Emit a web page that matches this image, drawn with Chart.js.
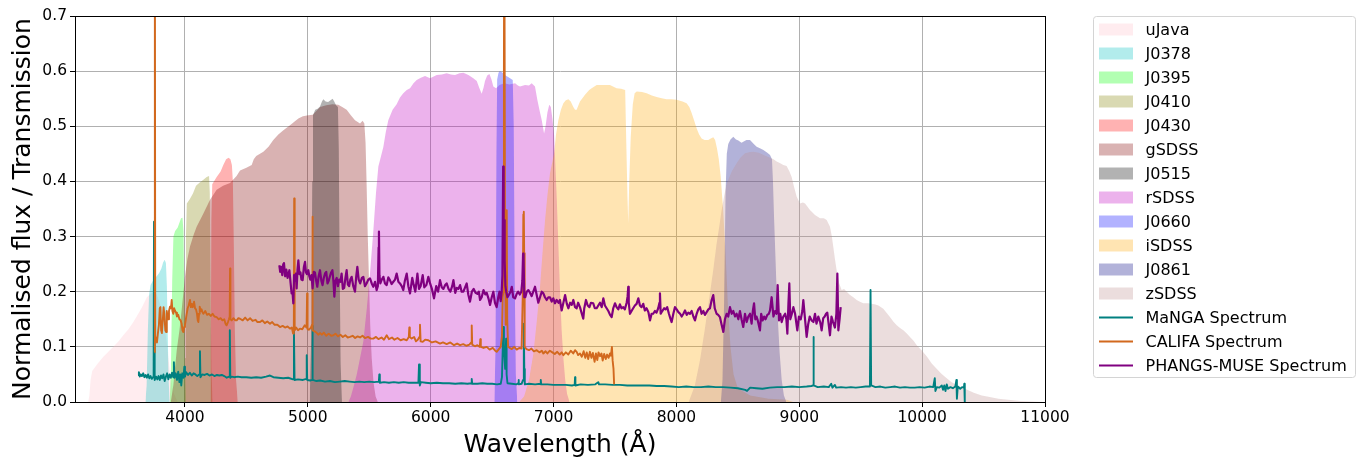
<!DOCTYPE html>
<html>
<head>
<meta charset="utf-8">
<script src="https://cdn.jsdelivr.net/npm/chart.js@4.4.0/dist/chart.umd.min.js"></script>
<style>
  html, body { margin: 0; padding: 0; background: #fff; }
  canvas { display: block; }
</style>
</head>
<body>
<canvas id="chart" width="1365" height="459"></canvas>
<script>
// Filter transmission curves, [wavelength (Å), transmission]
const uJava = [[3212,0],[3222,0.012],[3232,0.04],[3245,0.056],[3290,0.07],[3336,0.082],[3380,0.092],[3417,0.1],[3460,0.11],[3498,0.121],[3540,0.132],[3580,0.145],[3620,0.16],[3650,0.172],[3690,0.19],[3730,0.198],[3770,0.195],[3810,0.17],[3850,0.11],[3880,0.05],[3910,0.015],[3940,0]];
const J0378 = [[3678,0],[3688,0.03],[3698,0.13],[3708,0.195],[3720,0.212],[3745,0.222],[3770,0.228],[3790,0.234],[3808,0.242],[3822,0.253],[3835,0.258],[3845,0.252],[3853,0.21],[3860,0.12],[3867,0.04],[3876,0]];
const J0395 = [[3876,0],[3886,0.06],[3896,0.22],[3906,0.3],[3920,0.31],[3940,0.316],[3955,0.325],[3968,0.333],[3980,0.334],[3988,0.31],[3994,0.2],[4000,0.07],[4008,0]];
const J0410 = [[3995,0],[4002,0.08],[4008,0.3],[4015,0.36],[4040,0.368],[4065,0.378],[4090,0.392],[4120,0.398],[4150,0.403],[4177,0.408],[4196,0.41],[4202,0.38],[4208,0.22],[4215,0.06],[4225,0]];
const J0430 = [[4205,0],[4210,0.08],[4215,0.33],[4222,0.395],[4258,0.408],[4290,0.418],[4312,0.43],[4335,0.44],[4355,0.443],[4370,0.44],[4382,0.43],[4390,0.4],[4398,0.28],[4406,0.13],[4416,0.04],[4430,0]];
const gSDSS = [[3885,0],[3905,0.03],[3933,0.094],[3955,0.13],[3973,0.167],[4000,0.227],[4020,0.26],[4041,0.282],[4070,0.303],[4095,0.318],[4150,0.342],[4204,0.367],[4258,0.385],[4310,0.392],[4367,0.397],[4420,0.41],[4448,0.42],[4500,0.425],[4543,0.43],[4560,0.44],[4580,0.446],[4638,0.454],[4680,0.463],[4719,0.475],[4760,0.485],[4801,0.493],[4855,0.502],[4890,0.508],[4923,0.514],[4960,0.518],[5004,0.52],[5040,0.521],[5100,0.535],[5150,0.538],[5200,0.54],[5248,0.539],[5280,0.535],[5316,0.53],[5350,0.52],[5384,0.511],[5425,0.505],[5446,0.51],[5460,0.505],[5470,0.47],[5478,0.4],[5488,0.3],[5498,0.22],[5508,0.14],[5520,0.08],[5535,0.035],[5552,0.01],[5570,0]];
const J0515 = [[5015,0],[5028,0.12],[5036,0.4],[5042,0.52],[5060,0.53],[5080,0.532],[5099,0.536],[5115,0.545],[5126,0.549],[5145,0.545],[5165,0.544],[5185,0.547],[5202,0.55],[5215,0.545],[5230,0.538],[5245,0.535],[5252,0.46],[5259,0.25],[5267,0.07],[5278,0]];
const rSDSS = [[5330,0],[5350,0.01],[5375,0.03],[5398,0.05],[5425,0.08],[5452,0.11],[5480,0.17],[5506,0.233],[5533,0.31],[5555,0.38],[5574,0.427],[5595,0.445],[5615,0.463],[5635,0.49],[5655,0.511],[5690,0.53],[5723,0.54],[5750,0.552],[5777,0.56],[5805,0.566],[5832,0.569],[5860,0.578],[5886,0.584],[5920,0.588],[5954,0.591],[5995,0.587],[6020,0.59],[6049,0.593],[6090,0.594],[6130,0.596],[6165,0.594],[6198,0.593],[6235,0.596],[6266,0.597],[6307,0.593],[6347,0.587],[6375,0.582],[6395,0.57],[6415,0.559],[6430,0.57],[6442,0.582],[6460,0.592],[6478,0.595],[6495,0.585],[6510,0.572],[6532,0.569],[6560,0.575],[6600,0.578],[6640,0.576],[6687,0.578],[6710,0.574],[6727,0.572],[6768,0.575],[6800,0.574],[6822,0.578],[6849,0.572],[6868,0.548],[6885,0.53],[6904,0.511],[6923,0.487],[6935,0.5],[6950,0.525],[6965,0.539],[6978,0.535],[6990,0.515],[7004,0.485],[7015,0.43],[7026,0.37],[7040,0.28],[7053,0.2],[7066,0.13],[7080,0.08],[7095,0.04],[7110,0.015],[7130,0]];
const J0660 = [[6518,0],[6528,0.1],[6535,0.45],[6541,0.585],[6552,0.597],[6562,0.6],[6580,0.598],[6610,0.592],[6646,0.587],[6668,0.584],[6676,0.5],[6684,0.22],[6693,0.05],[6705,0]];
const iSDSS = [[6720,0],[6760,0.01],[6800,0.04],[6836,0.088],[6865,0.15],[6890,0.209],[6910,0.27],[6931,0.33],[6950,0.375],[6971,0.415],[7004,0.45],[7020,0.485],[7039,0.511],[7060,0.53],[7080,0.542],[7100,0.547],[7121,0.549],[7140,0.545],[7161,0.535],[7175,0.53],[7188,0.53],[7200,0.537],[7215,0.545],[7256,0.557],[7290,0.566],[7310,0.569],[7351,0.575],[7400,0.575],[7459,0.575],[7513,0.569],[7550,0.568],[7583,0.566],[7592,0.47],[7602,0.37],[7608,0.324],[7616,0.4],[7628,0.48],[7645,0.54],[7660,0.56],[7677,0.563],[7720,0.562],[7758,0.56],[7800,0.556],[7839,0.553],[7880,0.551],[7920,0.549],[7960,0.549],[8002,0.548],[8050,0.545],[8083,0.542],[8105,0.535],[8124,0.524],[8145,0.51],[8165,0.496],[8185,0.485],[8205,0.478],[8230,0.475],[8259,0.475],[8280,0.478],[8300,0.48],[8315,0.475],[8330,0.46],[8345,0.44],[8360,0.41],[8380,0.35],[8400,0.27],[8420,0.17],[8440,0.1],[8465,0.05],[8500,0.025],[8600,0.012],[8750,0.006],[8900,0.004],[8950,0]];
const J0861 = [[8362,0],[8375,0.04],[8388,0.18],[8400,0.38],[8410,0.45],[8422,0.468],[8440,0.476],[8463,0.481],[8485,0.476],[8504,0.474],[8530,0.47],[8544,0.472],[8570,0.475],[8599,0.475],[8630,0.468],[8653,0.463],[8680,0.46],[8708,0.457],[8740,0.452],[8762,0.448],[8778,0.44],[8786,0.4],[8794,0.34],[8805,0.27],[8816,0.2],[8828,0.14],[8840,0.09],[8857,0.04],[8875,0.012],[8895,0]];
const zSDSS = [[8100,0],[8150,0.03],[8192,0.076],[8230,0.13],[8273,0.197],[8300,0.24],[8327,0.287],[8350,0.32],[8368,0.348],[8390,0.375],[8409,0.396],[8450,0.418],[8490,0.433],[8520,0.443],[8558,0.451],[8590,0.453],[8626,0.454],[8670,0.452],[8720,0.447],[8762,0.443],[8790,0.44],[8816,0.436],[8845,0.433],[8870,0.43],[8897,0.428],[8920,0.418],[8938,0.408],[8955,0.392],[8979,0.372],[9006,0.36],[9030,0.362],[9047,0.36],[9087,0.348],[9128,0.339],[9169,0.333],[9200,0.333],[9223,0.33],[9250,0.318],[9265,0.3],[9277,0.281],[9290,0.26],[9304,0.239],[9325,0.215],[9345,0.203],[9365,0.205],[9386,0.2],[9413,0.194],[9440,0.19],[9467,0.185],[9494,0.182],[9521,0.179],[9560,0.179],[9589,0.178],[9620,0.177],[9644,0.175],[9684,0.169],[9710,0.162],[9738,0.154],[9765,0.146],[9793,0.139],[9820,0.134],[9847,0.13],[9875,0.124],[9901,0.118],[9930,0.111],[9956,0.103],[9996,0.094],[10040,0.082],[10078,0.07],[10120,0.06],[10159,0.051],[10200,0.043],[10240,0.036],[10290,0.03],[10349,0.024],[10420,0.017],[10485,0.012],[10550,0.009],[10620,0.006],[10700,0.004],[10800,0.002],[10900,0.001],[10990,0]];

// Normalised spectra, [wavelength (Å), flux]
const manga = [[3618,0.049],[3625,0.054],[3632,0.046],[3640,0.05],[3650,0.047],[3660,0.052],[3670,0.045],[3680,0.049],[3690,0.044],[3700,0.05],[3710,0.043],[3720,0.047],[3730,0.042],[3740,0.045],[3745,0.05],[3748,0.327],[3751,0.05],[3756,0.04],[3765,0.046],[3775,0.041],[3785,0.047],[3795,0.04],[3805,0.048],[3815,0.043],[3825,0.05],[3835,0.038],[3845,0.046],[3855,0.052],[3865,0.041],[3875,0.05],[3885,0.044],[3895,0.053],[3905,0.045],[3910,0.072],[3914,0.044],[3925,0.052],[3935,0.04],[3945,0.055],[3955,0.036],[3962,0.05],[3970,0.03],[3978,0.052],[3988,0.044],[3995,0.064],[4000,0.046],[4010,0.054],[4025,0.049],[4040,0.053],[4055,0.048],[4070,0.052],[4085,0.05],[4100,0.047],[4115,0.05],[4122,0.092],[4126,0.045],[4140,0.05],[4160,0.049],[4180,0.051],[4200,0.048],[4220,0.05],[4240,0.047],[4260,0.049],[4280,0.048],[4300,0.049],[4320,0.047],[4340,0.044],[4360,0.046],[4365,0.13],[4369,0.044],[4380,0.046],[4400,0.045],[4430,0.046],[4460,0.045],[4500,0.045],[4540,0.044],[4580,0.045],[4620,0.044],[4660,0.046],[4692,0.048],[4720,0.045],[4760,0.044],[4800,0.043],[4840,0.044],[4880,0.041],[4887,0.13],[4892,0.04],[4920,0.041],[4960,0.04],[4988,0.042],[4991,0.085],[4995,0.04],[5020,0.039],[5034,0.04],[5037,0.138],[5041,0.04],[5070,0.038],[5100,0.039],[5140,0.037],[5180,0.038],[5220,0.036],[5260,0.037],[5300,0.038],[5340,0.037],[5380,0.036],[5420,0.037],[5460,0.036],[5500,0.037],[5540,0.036],[5578,0.037],[5582,0.05],[5586,0.035],[5620,0.036],[5660,0.035],[5700,0.036],[5740,0.035],[5780,0.036],[5820,0.035],[5860,0.035],[5900,0.035],[5905,0.068],[5910,0.035],[5913,0.03],[5920,0.036],[5960,0.035],[6000,0.034],[6050,0.035],[6100,0.034],[6150,0.034],[6200,0.033],[6250,0.034],[6300,0.033],[6330,0.034],[6334,0.042],[6338,0.033],[6380,0.033],[6420,0.034],[6460,0.033],[6500,0.033],[6540,0.032],[6570,0.033],[6580,0.045],[6587,0.1],[6592,0.136],[6596,0.09],[6600,0.085],[6606,0.06],[6610,0.09],[6614,0.115],[6618,0.05],[6625,0.034],[6660,0.033],[6700,0.032],[6712,0.034],[6715,0.04],[6718,0.032],[6740,0.033],[6752,0.04],[6758,0.142],[6762,0.06],[6766,0.032],[6800,0.033],[6850,0.032],[6893,0.033],[6896,0.04],[6899,0.032],[6950,0.032],[7000,0.031],[7050,0.031],[7100,0.031],[7150,0.03],[7172,0.031],[7175,0.045],[7178,0.03],[7220,0.032],[7280,0.031],[7340,0.032],[7364,0.036],[7370,0.032],[7420,0.032],[7480,0.031],[7540,0.031],[7600,0.03],[7660,0.03],[7720,0.03],[7780,0.03],[7840,0.029],[7900,0.029],[7960,0.028],[8020,0.027],[8080,0.028],[8140,0.027],[8200,0.027],[8260,0.028],[8320,0.027],[8380,0.027],[8440,0.026],[8500,0.025],[8560,0.022],[8575,0.02],[8600,0.026],[8650,0.025],[8700,0.024],[8760,0.026],[8820,0.027],[8880,0.027],[8940,0.028],[9000,0.027],[9060,0.028],[9100,0.029],[9112,0.03],[9115,0.118],[9119,0.03],[9150,0.027],[9200,0.028],[9240,0.027],[9260,0.033],[9270,0.026],[9290,0.031],[9300,0.026],[9340,0.027],[9380,0.026],[9420,0.027],[9460,0.026],[9500,0.027],[9540,0.028],[9575,0.028],[9580,0.203],[9585,0.03],[9620,0.027],[9660,0.028],[9700,0.026],[9740,0.027],[9780,0.028],[9820,0.026],[9860,0.027],[9900,0.026],[9940,0.026],[9980,0.027],[10020,0.026],[10060,0.028],[10090,0.027],[10103,0.043],[10108,0.02],[10120,0.027],[10140,0.026],[10160,0.03],[10170,0.022],[10180,0.03],[10190,0.02],[10200,0.032],[10210,0.024],[10230,0.027],[10250,0.025],[10270,0.028],[10279,0.04],[10283,0.006],[10290,0.028],[10310,0.024],[10325,0.027],[10340,0.026],[10343,0.033],[10347,0]];
const califa = [[3752,0.09],[3755,0.95],[3758,0.12],[3765,0.112],[3772,0.108],[3780,0.125],[3788,0.14],[3795,0.17],[3800,0.172],[3806,0.13],[3812,0.125],[3820,0.15],[3826,0.172],[3832,0.16],[3840,0.13],[3846,0.127],[3852,0.165],[3858,0.155],[3864,0.15],[3870,0.165],[3878,0.173],[3886,0.17],[3892,0.185],[3898,0.165],[3905,0.16],[3912,0.17],[3920,0.165],[3928,0.162],[3935,0.155],[3945,0.158],[3955,0.15],[3965,0.148],[3973,0.142],[3980,0.13],[3987,0.127],[3994,0.136],[4000,0.14],[4007,0.15],[4014,0.16],[4022,0.17],[4030,0.175],[4041,0.185],[4048,0.172],[4055,0.178],[4063,0.172],[4074,0.182],[4082,0.17],[4090,0.168],[4098,0.16],[4104,0.148],[4109,0.145],[4115,0.16],[4120,0.173],[4128,0.165],[4135,0.168],[4142,0.163],[4150,0.16],[4165,0.165],[4180,0.158],[4195,0.16],[4210,0.156],[4225,0.16],[4240,0.155],[4258,0.154],[4275,0.15],[4290,0.152],[4305,0.148],[4320,0.15],[4330,0.142],[4339,0.139],[4350,0.145],[4358,0.15],[4364,0.155],[4367,0.242],[4370,0.15],[4380,0.148],[4395,0.152],[4410,0.148],[4421,0.148],[4435,0.152],[4448,0.151],[4470,0.148],[4490,0.153],[4510,0.148],[4530,0.152],[4550,0.147],[4575,0.149],[4590,0.145],[4611,0.145],[4630,0.148],[4650,0.143],[4670,0.146],[4692,0.142],[4710,0.145],[4730,0.14],[4752,0.14],[4774,0.136],[4795,0.138],[4815,0.135],[4835,0.137],[4855,0.133],[4870,0.135],[4880,0.124],[4886,0.13],[4889,0.369],[4893,0.13],[4905,0.135],[4920,0.13],[4936,0.133],[4955,0.132],[4975,0.139],[4990,0.135],[4994,0.197],[4998,0.132],[5010,0.131],[5025,0.135],[5034,0.14],[5037,0.336],[5041,0.13],[5055,0.128],[5070,0.126],[5085,0.122],[5099,0.125],[5115,0.122],[5130,0.126],[5150,0.12],[5170,0.124],[5190,0.12],[5208,0.121],[5225,0.124],[5245,0.119],[5265,0.122],[5285,0.118],[5305,0.121],[5325,0.117],[5343,0.118],[5365,0.12],[5385,0.116],[5405,0.119],[5425,0.117],[5445,0.12],[5465,0.116],[5490,0.118],[5512,0.115],[5533,0.115],[5555,0.118],[5575,0.114],[5600,0.117],[5620,0.113],[5642,0.121],[5660,0.114],[5685,0.117],[5705,0.113],[5730,0.116],[5755,0.112],[5780,0.114],[5805,0.112],[5822,0.118],[5826,0.135],[5830,0.118],[5845,0.115],[5865,0.118],[5880,0.11],[5895,0.113],[5908,0.118],[5913,0.14],[5918,0.11],[5935,0.109],[5955,0.113],[5981,0.112],[6010,0.108],[6040,0.11],[6076,0.106],[6100,0.108],[6130,0.105],[6160,0.108],[6190,0.103],[6215,0.106],[6239,0.103],[6265,0.105],[6290,0.102],[6315,0.104],[6330,0.108],[6334,0.139],[6338,0.104],[6360,0.101],[6380,0.103],[6400,0.1],[6404,0.114],[6408,0.1],[6430,0.098],[6456,0.1],[6480,0.095],[6505,0.098],[6525,0.093],[6537,0.091],[6555,0.096],[6570,0.1],[6580,0.12],[6586,0.19],[6592,0.2],[6596,0.6],[6599,0.95],[6602,0.95],[6605,0.3],[6610,0.14],[6616,0.2],[6619,0.348],[6623,0.15],[6630,0.1],[6645,0.098],[6660,0.096],[6680,0.1],[6700,0.095],[6720,0.098],[6740,0.097],[6750,0.2],[6754,0.34],[6758,0.345],[6761,0.27],[6765,0.1],[6780,0.096],[6800,0.094],[6820,0.097],[6840,0.092],[6863,0.094],[6885,0.09],[6905,0.093],[6917,0.088],[6935,0.092],[6950,0.088],[6970,0.093],[6990,0.09],[7010,0.087],[7030,0.091],[7050,0.086],[7066,0.09],[7080,0.085],[7100,0.09],[7120,0.086],[7140,0.093],[7160,0.088],[7175,0.094],[7188,0.091],[7200,0.085],[7215,0.088],[7230,0.082],[7245,0.092],[7258,0.08],[7270,0.09],[7282,0.078],[7296,0.091],[7308,0.08],[7320,0.089],[7334,0.073],[7345,0.088],[7356,0.076],[7366,0.09],[7378,0.083],[7390,0.088],[7400,0.075],[7412,0.087],[7425,0.078],[7436,0.086],[7448,0.08],[7459,0.088],[7467,0.084],[7475,0.1],[7481,0.075],[7488,0.06],[7493,0.032]];
const phangs = [[4768,0.248],[4775,0.236],[4783,0.245],[4792,0.23],[4800,0.25],[4806,0.252],[4815,0.228],[4825,0.24],[4835,0.225],[4850,0.239],[4860,0.215],[4868,0.197],[4875,0.2],[4882,0.179],[4888,0.23],[4895,0.22],[4902,0.233],[4909,0.206],[4916,0.24],[4923,0.257],[4932,0.232],[4940,0.235],[4948,0.222],[4958,0.221],[4968,0.245],[4977,0.254],[4985,0.235],[4993,0.232],[5004,0.239],[5012,0.228],[5020,0.222],[5030,0.23],[5039,0.206],[5048,0.236],[5058,0.235],[5068,0.22],[5077,0.209],[5088,0.228],[5099,0.239],[5110,0.22],[5120,0.212],[5130,0.225],[5140,0.233],[5150,0.236],[5160,0.215],[5170,0.22],[5180,0.228],[5190,0.235],[5200,0.239],[5208,0.22],[5216,0.191],[5225,0.22],[5235,0.225],[5245,0.21],[5255,0.222],[5265,0.218],[5275,0.233],[5285,0.205],[5296,0.207],[5306,0.225],[5316,0.239],[5326,0.213],[5336,0.21],[5346,0.222],[5357,0.227],[5370,0.21],[5384,0.2],[5394,0.228],[5403,0.245],[5414,0.222],[5426,0.215],[5440,0.225],[5452,0.227],[5465,0.21],[5478,0.215],[5492,0.222],[5506,0.224],[5520,0.215],[5533,0.209],[5547,0.218],[5560,0.203],[5570,0.21],[5576,0.28],[5579,0.309],[5583,0.23],[5590,0.215],[5602,0.222],[5615,0.227],[5628,0.215],[5642,0.212],[5655,0.226],[5668,0.221],[5682,0.214],[5696,0.218],[5710,0.222],[5723,0.233],[5737,0.218],[5750,0.215],[5764,0.21],[5777,0.203],[5790,0.22],[5805,0.233],[5818,0.21],[5832,0.197],[5850,0.225],[5862,0.212],[5875,0.2],[5892,0.233],[5905,0.205],[5918,0.21],[5935,0.23],[5948,0.208],[5965,0.212],[5981,0.227],[5995,0.215],[6010,0.205],[6027,0.188],[6045,0.21],[6060,0.2],[6076,0.221],[6090,0.208],[6103,0.205],[6118,0.212],[6130,0.215],[6145,0.205],[6160,0.2],[6175,0.21],[6185,0.221],[6200,0.198],[6212,0.207],[6225,0.205],[6239,0.212],[6252,0.2],[6266,0.2],[6280,0.208],[6293,0.215],[6306,0.195],[6320,0.182],[6335,0.2],[6350,0.205],[6365,0.198],[6380,0.196],[6392,0.2],[6402,0.185],[6415,0.19],[6430,0.203],[6444,0.195],[6456,0.198],[6470,0.188],[6483,0.176],[6497,0.19],[6510,0.2],[6523,0.18],[6537,0.172],[6550,0.19],[6560,0.2],[6570,0.183],[6578,0.2],[6584,0.23],[6590,0.427],[6594,0.3],[6598,0.33],[6602,0.257],[6608,0.21],[6615,0.2],[6625,0.19],[6638,0.195],[6650,0.2],[6660,0.209],[6672,0.19],[6687,0.188],[6700,0.196],[6712,0.2],[6725,0.195],[6738,0.2],[6746,0.22],[6752,0.269],[6756,0.26],[6762,0.19],[6770,0.19],[6782,0.2],[6795,0.203],[6808,0.198],[6822,0.192],[6835,0.2],[6849,0.209],[6862,0.195],[6876,0.18],[6890,0.19],[6904,0.2],[6917,0.197],[6930,0.19],[6944,0.185],[6958,0.19],[6971,0.19],[6985,0.182],[6998,0.188],[7012,0.179],[7025,0.185],[7040,0.18],[7052,0.185],[7066,0.166],[7080,0.18],[7094,0.194],[7108,0.178],[7121,0.17],[7135,0.18],[7148,0.176],[7161,0.185],[7175,0.172],[7188,0.17],[7200,0.18],[7215,0.172],[7230,0.16],[7242,0.151],[7250,0.17],[7264,0.185],[7278,0.175],[7292,0.172],[7305,0.18],[7323,0.179],[7336,0.17],[7351,0.17],[7364,0.175],[7378,0.18],[7392,0.172],[7405,0.188],[7418,0.175],[7432,0.17],[7446,0.165],[7460,0.158],[7473,0.154],[7486,0.17],[7500,0.179],[7513,0.172],[7527,0.168],[7540,0.177],[7553,0.17],[7567,0.172],[7580,0.168],[7595,0.18],[7603,0.192],[7608,0.209],[7612,0.18],[7622,0.16],[7635,0.165],[7648,0.17],[7662,0.175],[7676,0.178],[7690,0.188],[7703,0.175],[7716,0.172],[7730,0.178],[7743,0.166],[7757,0.17],[7772,0.163],[7785,0.148],[7798,0.16],[7811,0.16],[7825,0.165],[7838,0.162],[7852,0.17],[7862,0.18],[7866,0.197],[7872,0.16],[7885,0.165],[7900,0.17],[7912,0.168],[7925,0.172],[7939,0.16],[7950,0.152],[7961,0.145],[7975,0.16],[7988,0.172],[8002,0.168],[8016,0.163],[8030,0.16],[8043,0.155],[8057,0.16],[8070,0.166],[8084,0.158],[8097,0.162],[8110,0.16],[8124,0.165],[8138,0.155],[8151,0.148],[8165,0.16],[8178,0.168],[8192,0.172],[8205,0.16],[8219,0.165],[8232,0.158],[8246,0.163],[8260,0.168],[8273,0.17],[8287,0.185],[8300,0.194],[8312,0.17],[8327,0.16],[8340,0.158],[8354,0.154],[8368,0.14],[8382,0.127],[8395,0.15],[8409,0.16],[8422,0.155],[8436,0.172],[8450,0.16],[8463,0.165],[8477,0.155],[8490,0.16],[8504,0.15],[8517,0.165],[8530,0.15],[8544,0.136],[8558,0.16],[8572,0.145],[8585,0.155],[8599,0.16],[8612,0.142],[8622,0.165],[8632,0.179],[8642,0.15],[8652,0.155],[8662,0.148],[8670,0.14],[8680,0.13],[8690,0.16],[8702,0.148],[8714,0.155],[8725,0.15],[8740,0.158],[8752,0.16],[8762,0.166],[8775,0.19],[8790,0.155],[8803,0.165],[8815,0.16],[8824,0.212],[8835,0.148],[8845,0.16],[8857,0.145],[8870,0.155],[8885,0.16],[8895,0.15],[8903,0.124],[8912,0.18],[8919,0.215],[8927,0.15],[8940,0.16],[8952,0.172],[8966,0.16],[8984,0.13],[8997,0.155],[9012,0.15],[9025,0.165],[9033,0.185],[9045,0.155],[9060,0.118],[9072,0.14],[9085,0.155],[9100,0.148],[9115,0.145],[9128,0.16],[9140,0.142],[9155,0.155],[9170,0.145],[9182,0.13],[9195,0.152],[9207,0.155],[9218,0.16],[9228,0.162],[9240,0.14],[9250,0.121],[9262,0.155],[9275,0.145],[9290,0.135],[9302,0.16],[9310,0.233],[9318,0.13],[9328,0.15],[9337,0.172]];

const xTicks = [4000, 5000, 6000, 7000, 8000, 9000, 10000, 11000];
const yTicks = [0, 0.1, 0.2, 0.3, 0.4, 0.5, 0.6, 0.7];

const filters = [
  { label: 'uJava', points: uJava, color: 'rgba(255,192,203,0.3)' },
  { label: 'J0378', points: J0378, color: 'rgba(0,191,191,0.3)' },
  { label: 'J0395', points: J0395, color: 'rgba(0,255,0,0.3)' },
  { label: 'J0410', points: J0410, color: 'rgba(128,128,0,0.3)' },
  { label: 'J0430', points: J0430, color: 'rgba(255,0,0,0.3)' },
  { label: 'gSDSS', points: gSDSS, color: 'rgba(128,0,0,0.3)' },
  { label: 'J0515', points: J0515, color: 'rgba(0,0,0,0.3)' },
  { label: 'rSDSS', points: rSDSS, color: 'rgba(191,0,191,0.3)' },
  { label: 'J0660', points: J0660, color: 'rgba(0,0,255,0.3)' },
  { label: 'iSDSS', points: iSDSS, color: 'rgba(255,165,0,0.3)' },
  { label: 'J0861', points: J0861, color: 'rgba(0,0,128,0.3)' },
  { label: 'zSDSS', points: zSDSS, color: 'rgba(188,143,143,0.3)' }
];
const spectra = [
  { label: 'MaNGA Spectrum', points: manga, color: '#008080', width: 1.9 },
  { label: 'CALIFA Spectrum', points: califa, color: '#d2691e', width: 1.9 },
  { label: 'PHANGS-MUSE Spectrum', points: phangs, color: '#800080', width: 2.2 }
];

const toXY = pts => pts.map(p => ({ x: p[0], y: p[1] }));

const datasets = [];
filters.forEach(f => datasets.push({
  label: f.label,
  data: toXY(f.points),
  fill: 'origin',
  backgroundColor: f.color,
  borderColor: 'rgba(0,0,0,0)',
  borderWidth: 0
}));
spectra.forEach(s => datasets.push({
  label: s.label,
  data: toXY(s.points),
  fill: false,
  borderColor: s.color,
  backgroundColor: s.color,
  borderWidth: s.width,
  borderJoinStyle: 'round'
}));
// later datasets sit on top
datasets.forEach((d, i) => {
  d.order = datasets.length - i;
  d.pointRadius = 0;
  d.pointHoverRadius = 0;
  d.tension = 0;
  d.clip = 0;
});

// black box around the plotting area
const frame = {
  id: 'frame',
  afterDatasetsDraw(chart) {
    const { ctx, chartArea: a } = chart;
    ctx.save();
    ctx.strokeStyle = '#000';
    ctx.lineWidth = 1;
    ctx.strokeRect(Math.round(a.left) + 0.5, Math.round(a.top) + 0.5,
      Math.round(a.right - a.left), Math.round(a.bottom - a.top));
    ctx.restore();
  }
};

// legend outside the axes, on the right
const sideLegend = {
  id: 'sideLegend',
  afterDraw(chart) {
    const { ctx, chartArea: a } = chart;
    const left = Math.round(a.right) + 48.5;
    const top = Math.round(a.top) + 0.5;
    const w = 262, h = 361, rowH = 24;
    ctx.save();
    ctx.beginPath();
    if (ctx.roundRect) ctx.roundRect(left, top, w, h, 3);
    else ctx.rect(left, top, w, h);
    ctx.fillStyle = 'rgba(255,255,255,0.8)';
    ctx.fill();
    ctx.strokeStyle = '#d4d4d4';
    ctx.lineWidth = 1;
    ctx.stroke();
    ctx.font = '16px "DejaVu Sans"';
    ctx.textBaseline = 'middle';
    ctx.textAlign = 'left';
    chart.data.datasets.forEach((ds, i) => {
      const cy = top + 13 + i * rowH;
      if (ds.fill) {
        ctx.fillStyle = ds.backgroundColor;
        ctx.fillRect(left + 5.5, cy - 6, 34, 12);
      } else {
        ctx.strokeStyle = ds.borderColor;
        ctx.lineWidth = ds.borderWidth;
        ctx.beginPath();
        ctx.moveTo(left + 5.5, cy);
        ctx.lineTo(left + 39.5, cy);
        ctx.stroke();
      }
      ctx.fillStyle = '#000';
      ctx.fillText(ds.label, left + 52, cy + 1);
    });
    ctx.restore();
  }
};

Chart.defaults.font.family = '"DejaVu Sans", sans-serif';
Chart.defaults.color = '#000';

new Chart(document.getElementById('chart'), {
  type: 'line',
  data: { datasets },
  options: {
    responsive: false,
    animation: false,
    devicePixelRatio: 1,
    events: [],
    layout: { padding: { top: 16, right: 320, left: 0, bottom: 0 } },
    plugins: { legend: { display: false }, tooltip: { enabled: false } },
    scales: {
      x: {
        type: 'linear',
        min: 3105,
        max: 11000,
        afterFit: s => { s.height = 57; },
        afterBuildTicks: s => { s.ticks = xTicks.map(v => ({ value: v })); },
        ticks: {
          autoSkip: false, maxRotation: 0, padding: 2,
          font: { size: 15.5 }, color: '#000',
          callback: v => String(v)
        },
        grid: { color: '#b0b0b0', lineWidth: 1, tickColor: '#000', tickLength: 5 },
        border: { display: true, color: '#000', width: 1 },
        title: {
          display: true, text: 'Wavelength (Å)', color: '#000',
          font: { size: 25, lineHeight: 1 }, padding: { top: 0, bottom: 1 }
        }
      },
      y: {
        min: 0,
        max: 0.7,
        afterFit: s => { s.width = 75; },
        afterBuildTicks: s => { s.ticks = yTicks.map(v => ({ value: v })); },
        ticks: {
          autoSkip: false, padding: 3,
          font: { size: 15.5 }, color: '#000',
          callback: v => v.toFixed(1)
        },
        grid: { color: '#b0b0b0', lineWidth: 1, tickColor: '#000', tickLength: 5 },
        border: { display: true, color: '#000', width: 1 },
        title: {
          display: true, text: 'Normalised flux / Transmission', color: '#000',
          font: { size: 25, lineHeight: 1 }, padding: { top: 11, bottom: 0 }
        }
      }
    }
  },
  plugins: [frame, sideLegend]
});
</script>
</body>
</html>
